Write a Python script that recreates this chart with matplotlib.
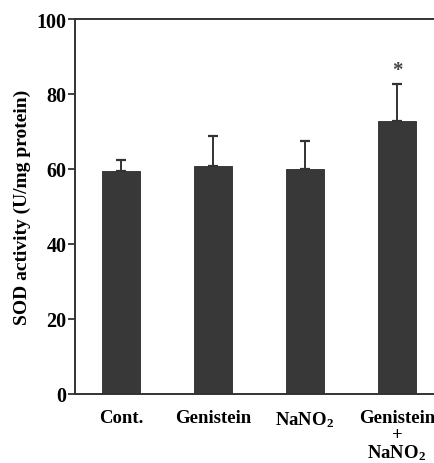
import matplotlib
matplotlib.use("Agg")
import matplotlib.pyplot as plt
import numpy as np

categories = ["Cont.", "Genistein", "NaNO$_2$", "Genistein\n+\nNaNO$_2$"]
means = [59.5, 60.8, 60.1, 72.8]
errors = [2.9, 8.0, 7.4, 9.9]
significant = [False, False, False, True]
yticks = [0, 20, 40, 60, 80, 100]

plt.rcParams["font.family"] = ["Liberation Serif", "DejaVu Serif"]
plt.rcParams["font.weight"] = "bold"
plt.rcParams["mathtext.fontset"] = "custom"
plt.rcParams["mathtext.rm"] = "Liberation Serif:bold"
plt.rcParams["mathtext.it"] = "Liberation Serif:bold"
plt.rcParams["mathtext.bf"] = "Liberation Serif:bold"

fig = plt.figure(figsize=(4.35, 4.64), dpi=100)
ax = fig.add_axes([75/435, 69/464, 368/435, 375/464])

x = np.arange(len(categories))
bar_color = "#383838"
ax.bar(x, means, width=0.42, color=bar_color, edgecolor="#2a2a2a", linewidth=0.6, zorder=2)
lower = np.zeros(len(errors))
ax.errorbar(x, means, yerr=[lower, errors], fmt="none", ecolor="#333333",
            elinewidth=1.4, capsize=3.5, capthick=1.6, zorder=3)

for xi, m, e, s in zip(x, means, errors, significant):
    if s:
        ax.text(xi, m + e + 1.0, "*", ha="center", va="bottom", fontsize=15,
                fontweight="bold", color="#444444")

ax.set_xlim(-0.5, 3.5)
ax.set_ylim(0, 100)
ax.set_yticks(yticks)
ax.set_yticklabels([str(t) for t in yticks], fontsize=14.5, fontweight="bold")
ax.set_xticks(x)
ax.set_xticklabels(categories, fontsize=13.5, fontweight="bold", linespacing=0.95)
for lbl in ax.get_xticklabels():
    lbl.set_multialignment("center")
ax.tick_params(axis="x", length=0, pad=11)
ax.tick_params(axis="y", length=5, width=1.3, direction="out", pad=1, color="#333333")

for side in ["left", "top", "bottom"]:
    ax.spines[side].set_linewidth(1.4)
    ax.spines[side].set_color("#333333")
ax.spines["right"].set_visible(False)

ax.set_ylabel("SOD activity (U/mg protein)", fontsize=14, fontweight="bold", labelpad=4)

fig.savefig("out.png", dpi=100)
